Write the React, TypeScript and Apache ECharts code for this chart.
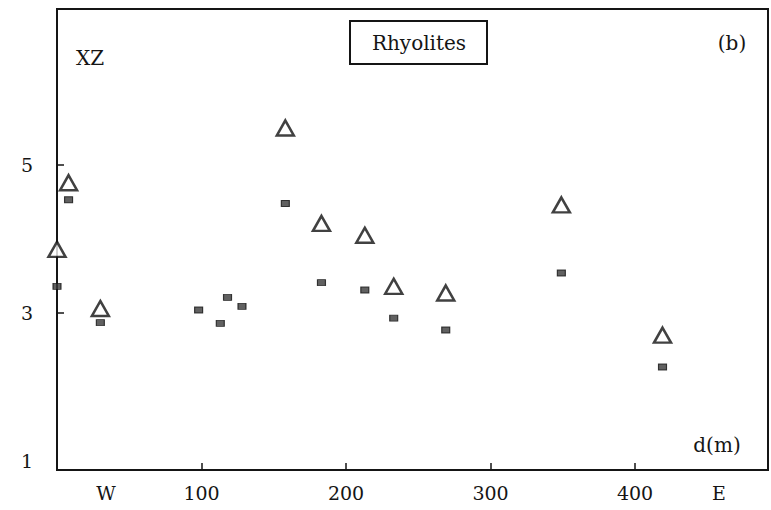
import React, { useEffect, useRef } from "react";
import * as echarts from "echarts";

// distance along profile (m) and XZ values
const triX = [0, 8, 30, 158, 183, 213, 233, 269, 349, 419];
const triY = [3.86, 4.76, 3.06, 5.5, 4.21, 4.05, 3.36, 3.27, 4.46, 2.7];
const sqX = [0, 8, 30, 98, 113, 118, 128, 158, 183, 213, 233, 269, 349, 419];
const sqY = [3.36, 4.53, 2.87, 3.04, 2.86, 3.21, 3.09, 4.48, 3.41, 3.31, 2.93, 2.77, 3.54, 2.27];

const xLabelValues = [34, 100, 200, 300, 400, 458];
const xLabelTexts = ["W", "100", "200", "300", "400", "E"];
const xTickValues = [100, 200, 300, 400];
const yLabelValues = [1, 3, 5];
const yTickValues = [3, 5];

const FONT = "DejaVu Serif";
const INK = "#151515";
const textCommon = {
  fill: INK,
  align: "center",
  verticalAlign: "middle",
};

export default function App() {
  const ref = useRef<HTMLDivElement>(null);
  useEffect(() => {
    if (!ref.current) return;
    const chart = echarts.init(ref.current, undefined, { renderer: "svg" });
    const tri = triX.map((x, i) => [x, triY[i]]);
    const sq = sqX.map((x, i) => [x, sqY[i]]);
    const labelStyle = {
      color: INK,
      fontFamily: FONT,
      fontSize: 19,
    };
    chart.setOption({
      animation: false,
      backgroundColor: "#ffffff",
      grid: {
        left: 57,
        right: 3,
        top: 9,
        bottom: 40,
        show: true,
        borderColor: INK,
        borderWidth: 2,
        backgroundColor: "transparent",
      },
      xAxis: {
        type: "value",
        min: 0,
        max: 492,
        splitLine: { show: false },
        axisLine: { lineStyle: { color: INK, width: 2 } },
        axisTick: {
          show: true,
          inside: true,
          length: 7,
          customValues: xTickValues,
          lineStyle: { color: INK, width: 1.5 },
        },
        axisLabel: {
          customValues: xLabelValues,
          margin: 13,
          ...labelStyle,
          formatter: (v: number) => {
            const i = xLabelValues.indexOf(v);
            return i >= 0 ? xLabelTexts[i] : "";
          },
        },
      },
      yAxis: {
        type: "value",
        min: 0.878,
        max: 7.108,
        splitLine: { show: false },
        axisLine: { show: true, lineStyle: { color: INK, width: 2 } },
        axisTick: {
          show: true,
          inside: true,
          length: 7,
          customValues: yTickValues,
          lineStyle: { color: INK, width: 1.5 },
        },
        axisLabel: {
          customValues: yLabelValues,
          margin: 24,
          ...labelStyle,
          formatter: (v: number) => String(Math.round(v)),
        },
      },
      graphic: [
        {
          type: "rect",
          shape: { x: 350, y: 21, width: 137, height: 43 },
          style: { fill: "#fff", stroke: INK, lineWidth: 2 },
          z: 10,
        },
        {
          type: "text",
          x: 419,
          y: 43,
          style: { text: "Rhyolites", font: `20px "${FONT}"`, ...textCommon },
          z: 11,
        },
        {
          type: "text",
          x: 732,
          y: 43,
          style: { text: "(b)", font: `20px "${FONT}"`, ...textCommon },
          z: 11,
        },
        {
          type: "text",
          x: 90,
          y: 58,
          style: { text: "XZ", font: `20px "${FONT}"`, ...textCommon },
          z: 11,
        },
        {
          type: "text",
          x: 717,
          y: 445,
          style: { text: "d(m)", font: `20px "${FONT}"`, ...textCommon },
          z: 11,
        },
      ],
      series: [
        {
          type: "scatter",
          data: sq,
          symbol: "rect",
          symbolSize: [8, 6],
          itemStyle: { color: "#3a3a3a", borderColor: "#111", borderWidth: 1 },
          z: 3,
        },
        {
          type: "scatter",
          data: tri,
          symbol: "triangle",
          symbolSize: [17, 15],
          itemStyle: { color: "#ffffff", borderColor: "#111", borderWidth: 2.5 },
          z: 4,
        },
      ],
    });
    return () => chart.dispose();
  }, []);
  return (
    <div
      ref={ref}
      style={{ position: "fixed", left: 0, top: 0, width: 771, height: 510 }}
    />
  );
}
